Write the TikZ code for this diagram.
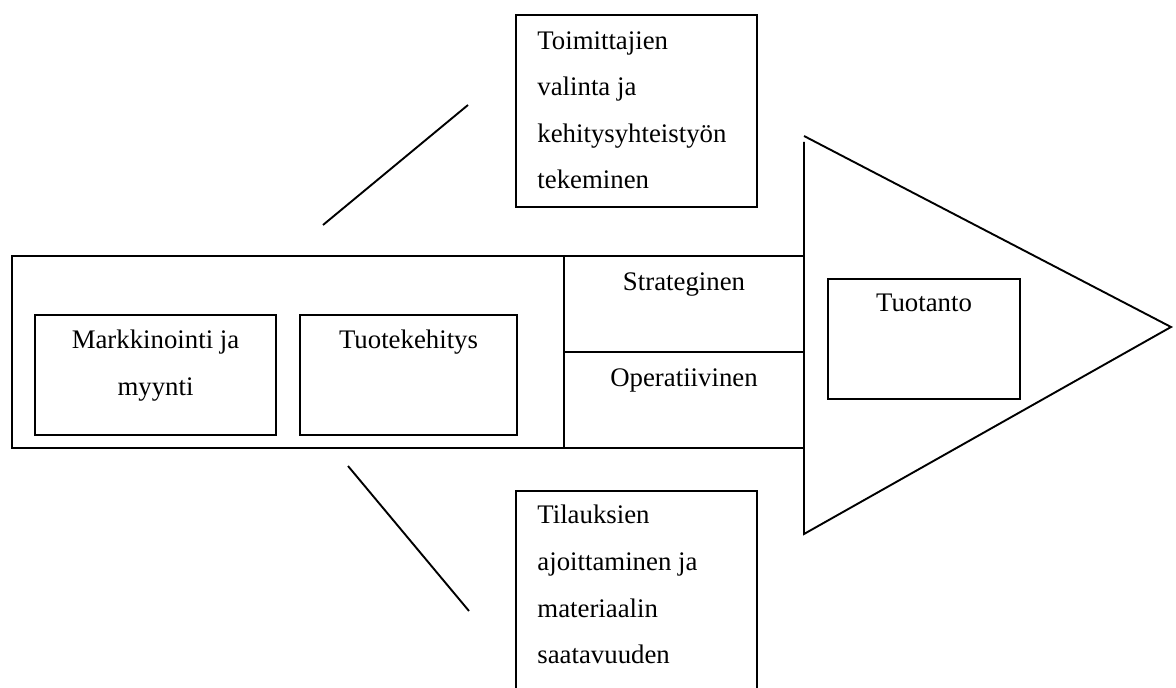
\documentclass[tikz,border=0pt]{standalone}
\usepackage{fontspec}
\setmainfont{Liberation Serif}
\usetikzlibrary{positioning,fit,calc}
\definecolor{ink}{RGB}{0,0,0}
\tikzset{
  frame/.style={draw=ink, line width=0.95pt, inner sep=0pt, outer sep=0pt},
  box/.style={frame, fill=white},
  txt/.style={inner sep=0pt, font=\fontsize{13.4}{23.3}\selectfont, align=center, text=ink},
  txtl/.style={txt, align=left},
  stroke/.style={draw=ink, line width=0.95pt},
}

\begin{document}
\begin{tikzpicture}[x=0.5pt, y=-0.5pt]
    \useasboundingbox (0,0) rectangle (1176,688);
    % the long body of the arrow
    \node[frame, fit={(12,256) (804,448)}] (body) {};
    \node[box, fit={(35,315) (276,435)}] (mark) {};
    \node[box, fit={(300,315) (517,435)}] (tuote) {};
    \node[frame, fit={(564,256) (804,352)}] (strat) {};
    \node[frame, fit={(564,352) (804,448)}] (oper) {};
    \node[txt, below=7.5pt of mark.north] (markt) {Markkinointi ja\\myynti};
    \node[txt, below=7.5pt of tuote.north] (tuotet) {Tuotekehitys};
    \node[txt, below=8pt of strat.north] (stratt) {Strateginen};
    \node[txt, below=8pt of oper.north] (opert) {Operatiivinen};
    % the head
    \coordinate (headtop) at (804,136);
    \coordinate (headedge) at (804,142);
    \coordinate (headtip) at (1171,327);
    \coordinate (headbot) at (804,534);
    \draw[stroke] (headedge) -- (headbot) -- (headtip) -- (headtop);
    \node[box, fit={(828,279) (1020,399)}] (prod) {};
    \node[txt, below=7.5pt of prod.north] (prodt) {Tuotanto};
    % supplier side
    \node[box, fit={(516,15) (757,207)}] (supp) {};
    \node[txtl, below right=8pt and 10.5pt of supp.north west] (suppt)
      {Toimittajien\\valinta ja\\kehitysyhteistyön\\tekeminen};
    \coordinate (uplo) at (323,225);
    \coordinate (uphi) at (468,105);
    \draw[stroke] (uplo) -- (uphi);
    % order side
    \node[box, fit={(516,491) (757,720)}] (order) {};
    \node[txtl, below right=7pt and 10.5pt of order.north west] (ordert)
      {Tilauksien\\ajoittaminen ja\\materiaalin\\saatavuuden};
    \coordinate (dnhi) at (348,466);
    \coordinate (dnlo) at (469,611);
    \draw[stroke] (dnhi) -- (dnlo);
\end{tikzpicture}
\end{document}
